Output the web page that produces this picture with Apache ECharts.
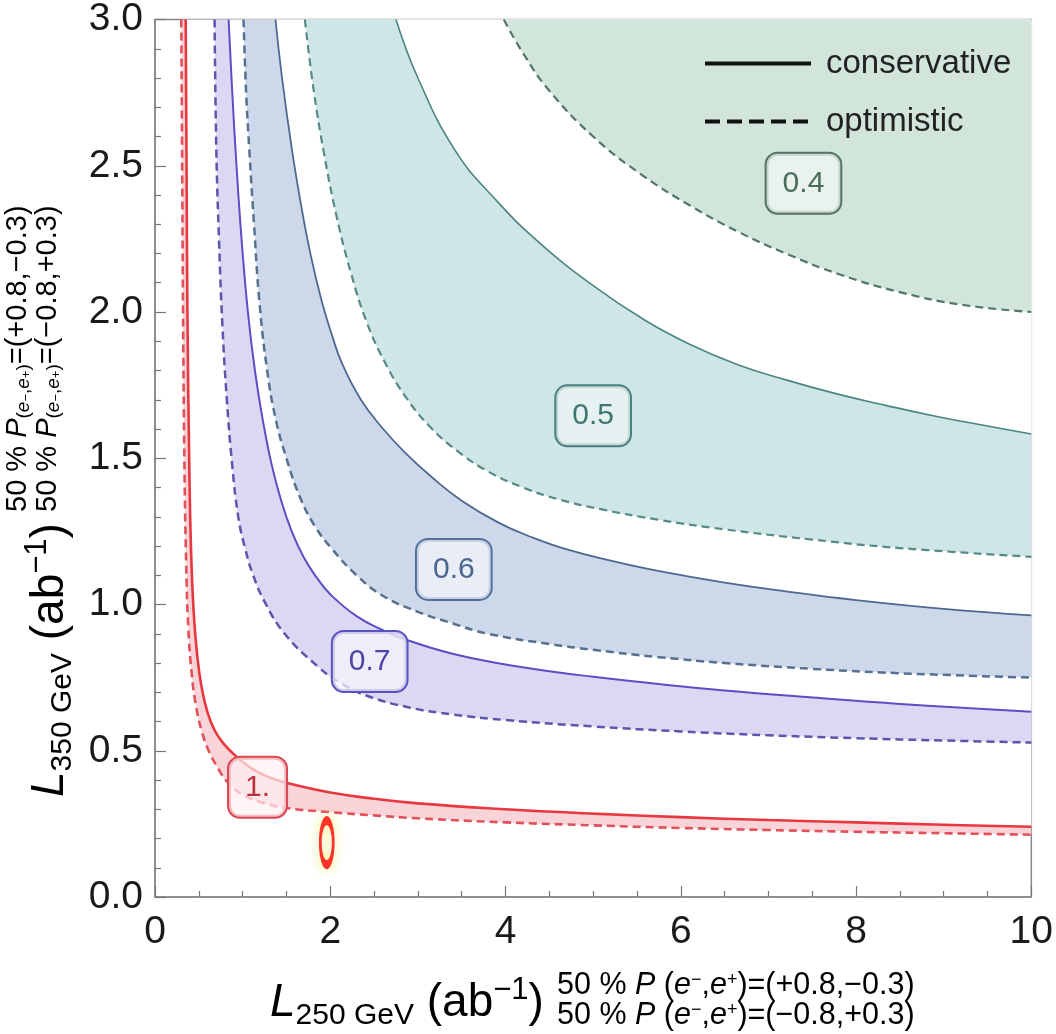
<!DOCTYPE html>
<html><head><meta charset="utf-8">
<script src="https://cdn.jsdelivr.net/npm/echarts@6/dist/echarts.min.js"></script>
<style>html,body{margin:0;padding:0;background:#fff}#c{width:1056px;height:1034px}</style>
</head><body><div id="c"></div><script>
// ---- data (x = L250 GeV, y = L350 GeV, ab^-1) ----
const curve_1_optimistic = [[0.30,3.0],[0.31,2.5],[0.32,2.0],[0.335,1.5],[0.355,1.15],[0.38,0.92],[0.42,0.76],[0.47,0.65],[0.54,0.56],[0.62,0.495],[0.72,0.44],[0.82,0.395],[1.0,0.35],[1.2,0.325],[1.48,0.305],[2.0,0.29],[2.5,0.279],[3.0,0.269],[4.0,0.255],[5.0,0.245],[6.0,0.236],[7.0,0.229],[8.0,0.223],[9.0,0.218],[10.0,0.213]];
const curve_1_conservative = [[0.35,3.0],[0.36,2.5],[0.37,2.0],[0.39,1.5],[0.41,1.2],[0.44,0.98],[0.48,0.83],[0.53,0.72],[0.60,0.63],[0.68,0.57],[0.78,0.525],[0.91,0.485],[1.1,0.44],[1.3,0.41],[1.5,0.39],[2.0,0.357],[2.5,0.336],[3.0,0.32],[4.0,0.30],[5.0,0.285],[6.0,0.273],[7.0,0.263],[8.0,0.255],[9.0,0.247],[10.0,0.24]];
const curve_07_optimistic = [[0.68,3.0],[0.70,2.55],[0.73,2.25],[0.77,1.95],[0.82,1.7],[0.88,1.48],[0.95,1.30],[1.03,1.19],[1.12,1.10],[1.25,1.01],[1.48,0.90],[1.85,0.79],[2.1,0.735],[2.4,0.69],[2.9,0.648],[3.4,0.624],[4.0,0.605],[5.0,0.583],[6.0,0.566],[7.0,0.553],[8.0,0.543],[9.0,0.535],[10.0,0.528]];
const curve_07_conservative = [[0.84,3.0],[0.88,2.76],[0.93,2.5],[0.99,2.24],[1.06,2.0],[1.14,1.8],[1.23,1.63],[1.33,1.48],[1.44,1.355],[1.56,1.25],[1.7,1.16],[1.85,1.09],[2.0,1.035],[2.3,0.96],[2.6,0.912],[2.9,0.876],[3.35,0.835],[3.9,0.80],[4.5,0.772],[5.0,0.753],[5.75,0.728],[6.5,0.706],[7.5,0.682],[8.5,0.66],[10.0,0.633]];
const curve_06_optimistic = [[1.01,3.0],[1.04,2.75],[1.075,2.56],[1.13,2.3],[1.19,2.04],[1.28,1.8],[1.38,1.63],[1.5,1.5],[1.65,1.37],[1.82,1.27],[2.02,1.19],[2.3,1.1],[2.6,1.03],[3.0,0.975],[3.4,0.935],[3.8,0.90],[4.5,0.865],[5.0,0.845],[5.75,0.82],[6.5,0.80],[7.5,0.78],[8.5,0.765],[10.0,0.75]];
const curve_06_conservative = [[1.375,3.0],[1.45,2.8],[1.56,2.56],[1.67,2.36],[1.78,2.19],[1.9,2.04],[2.02,1.92],[2.14,1.82],[2.35,1.70],[2.59,1.605],[2.85,1.52],[3.16,1.435],[3.5,1.355],[3.92,1.28],[4.3,1.23],[4.68,1.19],[5.2,1.15],[5.74,1.115],[6.5,1.075],[7.2,1.045],[8.0,1.015],[9.0,0.985],[10.0,0.963]];
const curve_05_optimistic = [[1.71,3.0],[1.81,2.76],[1.93,2.54],[2.07,2.33],[2.23,2.14],[2.41,1.97],[2.62,1.83],[2.86,1.71],[3.13,1.61],[3.45,1.525],[3.8,1.455],[4.2,1.40],[4.6,1.36],[5.1,1.325],[5.74,1.29],[6.5,1.257],[7.5,1.222],[8.5,1.193],[10.0,1.163]];
const curve_05_conservative = [[2.75,3.0],[3.0,2.8],[3.43,2.55],[3.9,2.38],[4.375,2.24],[5.0,2.09],[5.6,1.97],[6.1,1.89],[6.65,1.82],[7.2,1.768],[7.78,1.72],[8.35,1.68],[8.92,1.643],[9.5,1.61],[10.0,1.583]];
const curve_04_optimistic = [[3.98,3.0],[4.2,2.885],[4.49,2.76],[5.0,2.6],[5.55,2.47],[6.1,2.365],[6.65,2.275],[7.2,2.2],[7.8,2.13],[8.5,2.068],[9.2,2.025],[10.0,2.0]];

const contourLabels = ['1.', '0.7', '0.6', '0.5', '0.4'];
const contourLabelPos = [[1.17,0.375],[2.45,0.805],[3.41,1.12],[5.0,1.645],[7.4,2.44]];
const legendNames = ['conservative', 'optimistic'];
const markerOval = [[1.96, 0.186]];

// ---- styles ----
const FONT = '"Liberation Sans", Arial, sans-serif';
const layers = [
  {data: curve_1_optimistic,    line: '#e2505a', fill: '#f8d3d7', dash: true,  w: 2.6},
  {data: curve_1_conservative,  line: '#e8383f', fill: '#ffffff', dash: false, w: 2.6},
  {data: curve_07_optimistic,   line: '#5b56aa', fill: '#dcd8f4', dash: true,  w: 2.5},
  {data: curve_07_conservative, line: '#5a4fc4', fill: '#ffffff', dash: false, w: 2.0},
  {data: curve_06_optimistic,   line: '#56708f', fill: '#cdd9eb', dash: true,  w: 2.5},
  {data: curve_06_conservative, line: '#4d6891', fill: '#ffffff', dash: false, w: 1.8},
  {data: curve_05_optimistic,   line: '#568a86', fill: '#cfe6e7', dash: true,  w: 2.2},
  {data: curve_05_conservative, line: '#4a8580', fill: '#ffffff', dash: false, w: 1.6},
  {data: curve_04_optimistic,   line: '#52776a', fill: '#d1e5db', dash: true,  w: 2.2}
];
const labelStyles = {
  '1.':  {c: '#b8323f', b: '#dc4652', bg: 'rgba(255,240,242,0.7)'},
  '0.7': {c: '#4d45a8', b: '#5a52c0', bg: 'rgba(245,244,252,0.75)'},
  '0.6': {c: '#4a6590', b: '#52709a', bg: 'rgba(240,243,249,0.75)'},
  '0.5': {c: '#3f7571', b: '#4a807c', bg: 'rgba(238,245,245,0.75)'},
  '0.4': {c: '#4a6e5e', b: '#527565', bg: 'rgba(240,246,243,0.75)'}
};

const SMOOTH = 0.45;
const series = [];
layers.forEach((L) => {
  series.push({type: 'line', data: L.data, smooth: SMOOTH, showSymbol: false, symbol: 'none',
    lineStyle: {width: 0, opacity: 0}, areaStyle: {color: L.fill, opacity: 1, origin: 'end'}, z: 1, silent: true});
});
layers.forEach((L) => {
  series.push({type: 'line', data: L.data, smooth: SMOOTH, showSymbol: false, symbol: 'none',
    lineStyle: {width: L.w, color: L.line, type: L.dash ? [8, 5] : 'solid'}, z: 3, silent: true});
});
series.push({type: 'scatter', z: 5, symbolSize: 1, itemStyle: {color: 'rgba(0,0,0,0)'},
  data: contourLabels.map((t, i) => ({name: t, value: contourLabelPos[i],
    label: {show: true, position: 'inside', formatter: '{b}', fontFamily: FONT, fontSize: 30, opacity: 1,
      color: labelStyles[t].c, textBorderWidth: 0, backgroundColor: labelStyles[t].bg, borderColor: labelStyles[t].b,
      borderWidth: 2, borderRadius: 11, padding: [15, 16, 14, 16]}}))});
series.push({type: 'scatter', z: 6, data: markerOval, symbol: 'circle', symbolSize: [13, 44],
  itemStyle: {color: 'rgba(0,0,0,0)', borderColor: '#ff0000', borderWidth: 5, shadowBlur: 12, shadowColor: 'rgba(230,230,40,0.9)'}});
series.push({name: legendNames[0], type: 'line', data: [], symbol: 'none', lineStyle: {color: '#111', width: 4}, itemStyle: {color: '#111'}});
series.push({name: legendNames[1], type: 'line', data: [], symbol: 'none', lineStyle: {color: '#111', width: 4, type: [15, 7]}, itemStyle: {color: '#111'}});

const richMain = {
  L: {fontFamily: FONT, fontSize: 46, fontStyle: 'italic', lineHeight: 56, color: '#111'},
  sub: {fontFamily: FONT, fontSize: 30, lineHeight: 40, verticalAlign: 'bottom', color: '#111'},
  n: {fontFamily: FONT, fontSize: 46, lineHeight: 56, color: '#111'},
  sup: {fontFamily: FONT, fontSize: 31, lineHeight: 28, verticalAlign: 'top', color: '#111'}
};
const richPolX = {
  n: {fontFamily: FONT, fontSize: 30.5, lineHeight: 30, color: '#111'},
  i: {fontFamily: FONT, fontSize: 30.5, lineHeight: 30, fontStyle: 'italic', color: '#111'},
  sp: {fontFamily: FONT, fontSize: 18, lineHeight: 22, verticalAlign: 'top', color: '#111'}
};
const richPolY = {
  n: {fontFamily: FONT, fontSize: 29, lineHeight: 28, color: '#111'},
  i: {fontFamily: FONT, fontSize: 29, lineHeight: 28, fontStyle: 'italic', color: '#111'},
  sb: {fontFamily: FONT, fontSize: 19, lineHeight: 20, verticalAlign: 'bottom', color: '#111'},
  sbi: {fontFamily: FONT, fontSize: 19, lineHeight: 20, verticalAlign: 'bottom', fontStyle: 'italic', color: '#111'},
  ss: {fontFamily: FONT, fontSize: 13, lineHeight: 30, verticalAlign: 'bottom', color: '#111'}
};
const polX = ['{n|50 % }{i|P}{n| (}{i|e}{sp|−}{n|,}{i|e}{sp|+}{n|)=(+0.8,−0.3)}',
              '{n|50 % }{i|P}{n| (}{i|e}{sp|−}{n|,}{i|e}{sp|+}{n|)=(−0.8,+0.3)}'].join('\n');
const polY = ['{n|50 % }{i|P}{sb|(}{sbi|e}{ss|−}{sb|,}{sbi|e}{ss|+}{sb|)}{n|=(+0.8,−0.3)}',
              '{n|50 % }{i|P}{sb|(}{sbi|e}{ss|−}{sb|,}{sbi|e}{ss|+}{sb|)}{n|=(−0.8,+0.3)}'].join('\n');

const chart = echarts.init(document.getElementById('c'), null, {renderer: 'canvas'});
chart.setOption({
  animation: false,
  backgroundColor: '#fff',
  grid: {left: 155, right: 20, top: 19, bottom: 137, show: true, borderColor: '#888', borderWidth: 1.5, backgroundColor: '#fff', z: 0},
  xAxis: {type: 'value', min: 0, max: 10, interval: 2,
    axisLine: {show: true, lineStyle: {color: '#888', width: 1.5}},
    axisTick: {show: true, inside: true, length: 11, lineStyle: {color: '#777', width: 1.2}},
    minorTick: {show: true, splitNumber: 4, length: 6, lineStyle: {color: '#777', width: 1.2}},
    splitLine: {show: false},
    axisLabel: {fontFamily: FONT, fontSize: 39, color: '#1a1a1a', margin: 16}},
  yAxis: {type: 'value', min: 0, max: 3, interval: 0.5,
    axisLine: {show: true, lineStyle: {color: '#888', width: 1.5}},
    axisTick: {show: true, inside: true, length: 11, lineStyle: {color: '#777', width: 1.2}},
    minorTick: {show: true, splitNumber: 5, length: 6, lineStyle: {color: '#777', width: 1.2}},
    splitLine: {show: false},
    axisLabel: {fontFamily: FONT, fontSize: 39, color: '#1a1a1a', margin: 12, formatter: v => v.toFixed(1)}},
  legend: {data: legendNames, orient: 'vertical', left: 698, top: 42, itemWidth: 106, itemHeight: 16, itemGap: 25,
    itemStyle: {opacity: 0}, lineStyle: {width: 4, color: '#111'},
    textStyle: {fontFamily: FONT, fontSize: 33, color: '#222', padding: [0, 0, 0, 10]}, selectedMode: false},
  graphic: [
    {type: 'text', x: 270, y: 1003, style: {text: '{L|L}{sub|250 GeV}{n| (ab}{sup|−1}{n|)}', rich: richMain, align: 'left', verticalAlign: 'middle'}},
    {type: 'text', x: 557, y: 1001, style: {text: polX, rich: richPolX, align: 'left', verticalAlign: 'middle'}},
    {type: 'text', x: 50, y: 797, rotation: Math.PI / 2, style: {text: '{L|L}{sub|350 GeV}{n| (ab}{sup|−1}{n|)}', rich: richMain, align: 'left', verticalAlign: 'middle'}},
    {type: 'text', x: 33, y: 512, rotation: Math.PI / 2, style: {text: polY, rich: richPolY, align: 'left', verticalAlign: 'middle'}}
  ],
  series: series
});
</script></body></html>
